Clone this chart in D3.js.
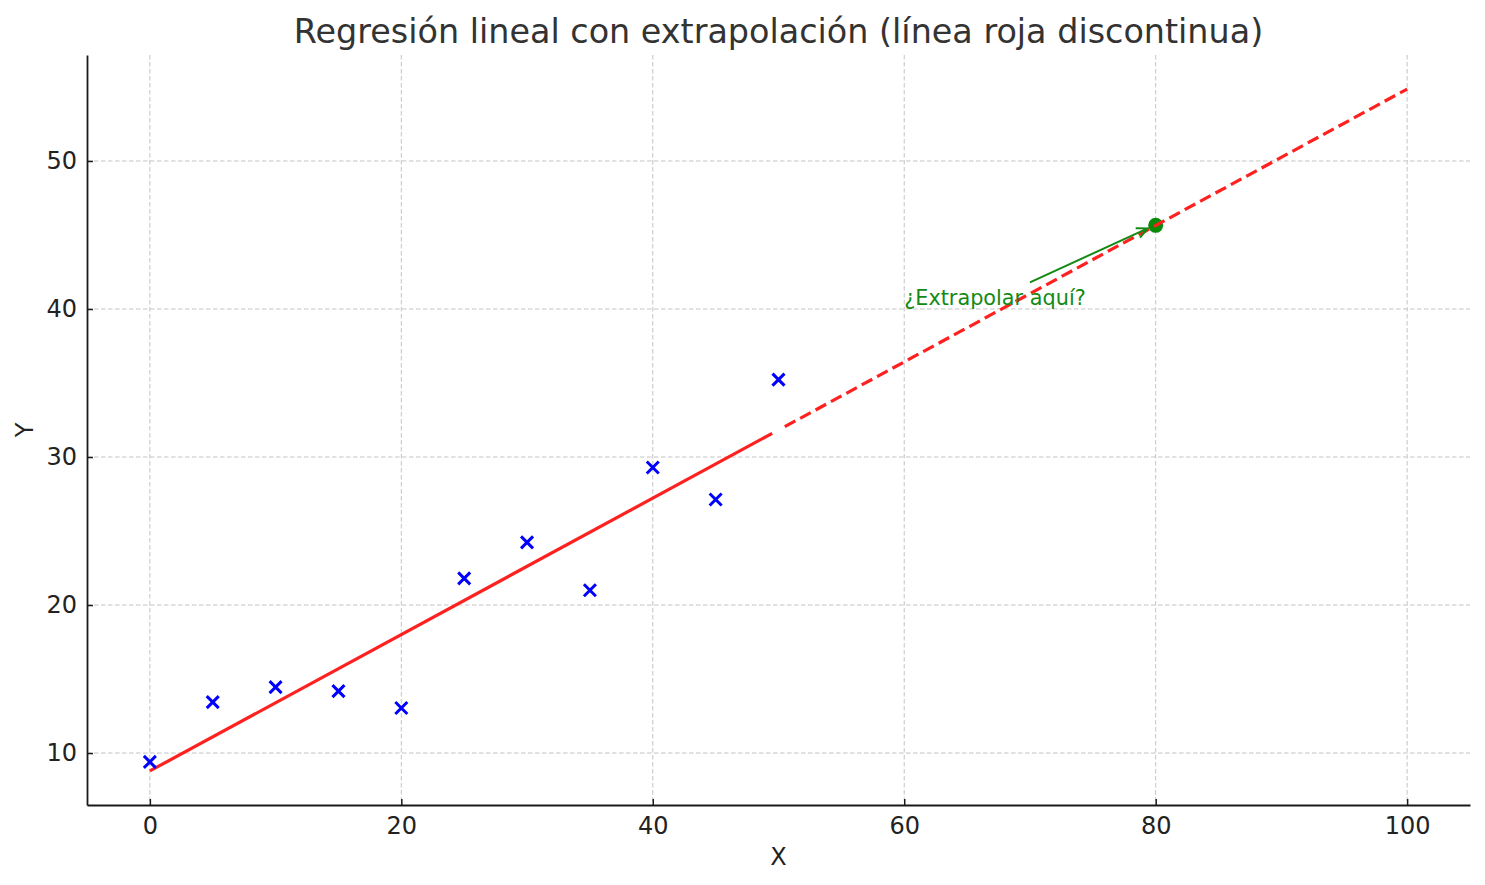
<!DOCTYPE html>
<html>
<head>
<meta charset="utf-8">
<script src="https://cdn.jsdelivr.net/npm/d3@7"></script>
<style>
  html, body { margin: 0; padding: 0; background: #fff; }
  svg { display: block; font-family: "DejaVu Sans", sans-serif; }
</style>
</head>
<body>
<svg id="svg" width="1485" height="885"></svg>
<script>
const $svg = d3.select('#svg')

// observed points
const xs = [0, 5, 10, 15, 20, 25, 30, 35, 40, 45, 50]
const ys = [9.4, 13.44, 14.45, 14.18, 13.04, 21.8, 24.23, 21.0, 29.29, 27.13, 35.23]

// fitted line
const fitX = [0, 49.5]
const fitY = [8.79, 31.6]
const extraX = [50.5, 100]
const extraY = [32.05, 54.86]

// extrapolated point + annotation
const target = [80, 45.65]
const noteAt = [60, 40.3]
const arrowFrom = [70, 41.8]
const noteText = '¿Extrapolar aquí?'

const xTicks = [0, 20, 40, 60, 80, 100]
const yTicks = [10, 20, 30, 40, 50]

const margin = { left: 87, right: 15, top: 55, bottom: 80 }
const width = 1485, height = 885

const x = d3.scaleLinear()
  .domain([-5, 105])
  .range([margin.left, width - margin.right])
const y = d3.scaleLinear()
  .domain([6.49, 57.16])
  .range([height - margin.bottom, margin.top])

const plotW = width - margin.left - margin.right
const plotH = height - margin.top - margin.bottom

// grid
const grid = $svg.append('g')
grid.selectAll('line.gx').data(xTicks).join('line')
  .attr('x1', d => x(d)).attr('x2', d => x(d))
  .attr('y1', margin.top).attr('y2', height - margin.bottom)
grid.selectAll('line.gy').data(yTicks).join('line')
  .attr('y1', d => y(d)).attr('y2', d => y(d))
  .attr('x1', margin.left).attr('x2', width - margin.right)
grid.selectAll('line')
  .attr('stroke', '#c4c4c4')
  .attr('stroke-width', 1)
  .attr('stroke-dasharray', '4.5,2.5')

// axes
const xAxis = $svg.append('g')
  .attr('transform', `translate(0,${height - margin.bottom})`)
  .call(d3.axisBottom(x).tickValues(xTicks).tickSizeInner(-6).tickSizeOuter(0).tickPadding(12))
const yAxis = $svg.append('g')
  .attr('transform', `translate(${margin.left},0)`)
  .call(d3.axisLeft(y).tickValues(yTicks).tickSizeInner(-6).tickSizeOuter(0).tickPadding(10))

;[xAxis, yAxis].forEach(a => {
  a.select('.domain').attr('stroke', '#1a1a1a').attr('stroke-width', 1.8)
  a.selectAll('.tick line').attr('stroke', '#1a1a1a').attr('stroke-width', 1.5)
  a.selectAll('.tick text')
    .attr('fill', '#222')
    .style('font-size', '24px')
    .style('font-family', '"DejaVu Sans", sans-serif')
})

// target point
$svg.append('circle')
  .attr('cx', x(target[0])).attr('cy', y(target[1]))
  .attr('r', 7.5)
  .attr('fill', '#0a8a0a')

// regression line
const line = d3.line().x(d => x(d[0])).y(d => y(d[1]))
$svg.append('path')
  .attr('d', line(d3.zip(fitX, fitY)))
  .attr('fill', 'none')
  .attr('stroke', '#ff2020')
  .attr('stroke-width', 3.2)
$svg.append('path')
  .attr('d', line(d3.zip(extraX, extraY)))
  .attr('fill', 'none')
  .attr('stroke', '#ff2020')
  .attr('stroke-width', 3.2)
  .attr('stroke-dasharray', '12,5.5')

// scatter x markers
const s = 6
$svg.append('g').selectAll('path').data(d3.zip(xs, ys)).join('path')
  .attr('d', d => {
    const cx = x(d[0]), cy = y(d[1])
    return `M${cx - s},${cy - s}L${cx + s},${cy + s}M${cx - s},${cy + s}L${cx + s},${cy - s}`
  })
  .attr('stroke', '#0000ff')
  .attr('stroke-width', 3)
  .attr('fill', 'none')

// annotation arrow
const ax0 = x(arrowFrom[0]), ay0 = y(arrowFrom[1])
const ax1 = x(target[0]) - 8, ay1 = y(target[1]) + 3
const ang = Math.atan2(ay1 - ay0, ax1 - ax0)
const hl = 12, hw = 0.45
$svg.append('path')
  .attr('d', `M${ax0},${ay0}L${ax1},${ay1}` +
    `M${ax1 - hl * Math.cos(ang - hw)},${ay1 - hl * Math.sin(ang - hw)}L${ax1},${ay1}` +
    `L${ax1 - hl * Math.cos(ang + hw)},${ay1 - hl * Math.sin(ang + hw)}`)
  .attr('fill', 'none')
  .attr('stroke', '#138a13')
  .attr('stroke-width', 2)

$svg.append('text')
  .attr('x', x(noteAt[0])).attr('y', y(noteAt[1]))
  .attr('fill', '#138a13')
  .style('font-size', '20.8px')
  .text(noteText)

// title + labels
$svg.append('text')
  .attr('x', margin.left + plotW / 2).attr('y', 43)
  .attr('text-anchor', 'middle')
  .attr('fill', '#333')
  .style('font-size', '33.4px')
  .text('Regresión lineal con extrapolación (línea roja discontinua)')

$svg.append('text')
  .attr('x', margin.left + plotW / 2).attr('y', 865)
  .attr('text-anchor', 'middle')
  .attr('fill', '#222')
  .style('font-size', '24px')
  .text('X')

$svg.append('text')
  .attr('transform', `translate(33,${margin.top + plotH / 2}) rotate(-90)`)
  .attr('text-anchor', 'middle')
  .attr('fill', '#222')
  .style('font-size', '24px')
  .text('Y')
</script>
</body>
</html>
